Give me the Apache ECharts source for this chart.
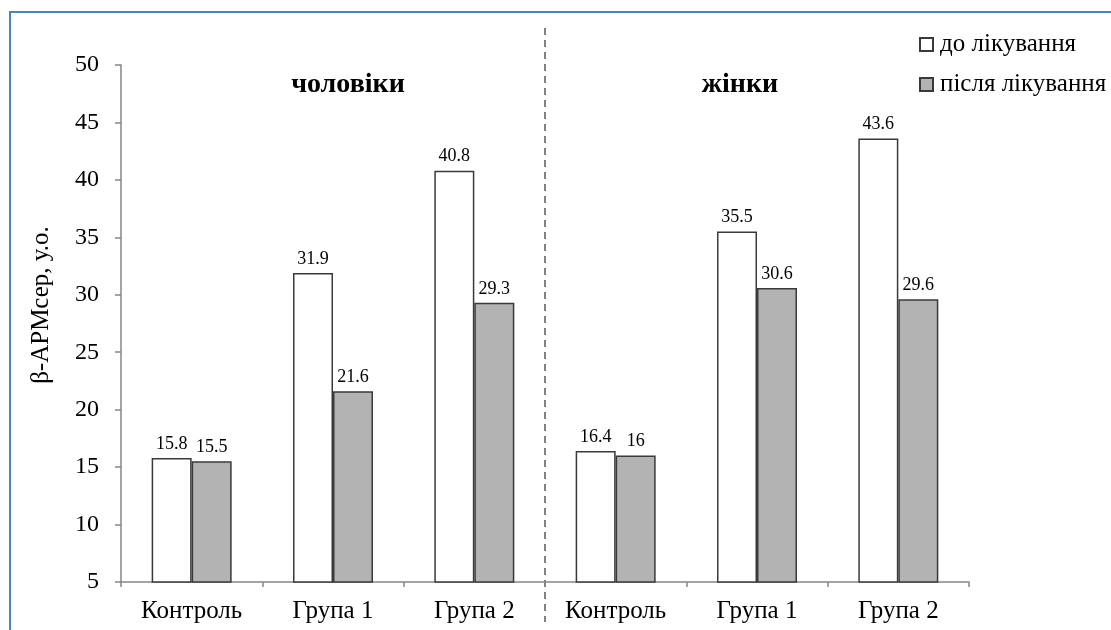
<!DOCTYPE html>
<html>
<head>
<meta charset="utf-8">
<script src="https://cdn.jsdelivr.net/npm/echarts@6/dist/echarts.min.js"></script>
<style>
  html, body { margin: 0; padding: 0; background: #fff; }
  #chart { width: 1111px; height: 630px; }
</style>
</head>
<body>
<div id="chart"></div>
<script>
// Groups along the x axis: men (first three) and women (last three)
const categories = ['Контроль', 'Група 1', 'Група 2', 'Контроль', 'Група 1', 'Група 2'];
const beforeValues = [15.8, 31.9, 40.8, 16.4, 35.5, 43.6];
const afterValues = [15.5, 21.6, 29.3, 16, 30.6, 29.6];
const seriesNames = ['до лікування', 'після лікування'];
const groupTitles = ['чоловіки', 'жінки'];
const yAxisTitle = 'β-АРМсер, у.о.';
const yTicks = { min: 5, max: 50, interval: 5 };

const FONT = '"Liberation Serif", "Times New Roman", serif';
const chart = echarts.init(document.getElementById('chart'));

const labelStyle = {
  show: true,
  position: 'top',
  distance: 5,
  fontFamily: FONT,
  fontSize: 18,
  color: '#000'
};

chart.setOption({
  backgroundColor: '#fff',
  animation: false,
  grid: { left: 121, right: 142, top: 65, bottom: 48 },
  legend: {
    orient: 'vertical',
    left: 919,
    top: 32,
    padding: 0,
    itemWidth: 13,
    itemHeight: 13,
    itemGap: 15,
    icon: 'rect',
    textStyle: { fontFamily: FONT, fontSize: 25, lineHeight: 25, color: '#000', padding: [0, 0, 0, 2] },
    data: seriesNames
  },
  xAxis: {
    type: 'category',
    data: categories,
    axisLine: { lineStyle: { color: '#868686', width: 1.5 } },
    axisTick: { show: true, length: 5, lineStyle: { color: '#868686', width: 1.5 } },
    axisLabel: { fontFamily: FONT, fontSize: 25, color: '#000', margin: 17 }
  },
  yAxis: {
    type: 'value',
    min: yTicks.min,
    max: yTicks.max,
    interval: yTicks.interval,
    axisLine: { show: true, lineStyle: { color: '#868686', width: 1.5 } },
    axisTick: { show: true, length: 6, lineStyle: { color: '#868686', width: 1.5 } },
    axisLabel: { fontFamily: FONT, fontSize: 24, color: '#000', margin: 22 },
    splitLine: { show: false }
  },
  series: [
    {
      name: seriesNames[0],
      type: 'bar',
      data: beforeValues,
      barWidth: 40,
      barGap: '0%',
      itemStyle: { color: '#ffffff', borderColor: '#3a3a3a', borderWidth: 1.5 },
      label: labelStyle
    },
    {
      name: seriesNames[1],
      type: 'bar',
      data: afterValues,
      barWidth: 40,
      barGap: '0%',
      itemStyle: { color: '#b3b3b3', borderColor: '#3a3a3a', borderWidth: 1.5 },
      label: labelStyle
    }
  ]
});

// Frame, divider between the two groups, group titles and the vertical axis title
function drawOverlay() {
  const x1 = chart.convertToPixel({ xAxisIndex: 0 }, 1);
  const x2 = chart.convertToPixel({ xAxisIndex: 0 }, 2);
  const x3 = chart.convertToPixel({ xAxisIndex: 0 }, 3);
  const x4 = chart.convertToPixel({ xAxisIndex: 0 }, 4);
  const xMid = (x2 + x3) / 2;
  const titleStyle = {
    fontFamily: FONT, fontSize: 28, fontWeight: 'bold',
    fill: '#000', align: 'center', verticalAlign: 'middle'
  };
  chart.setOption({
    graphic: [
      {
        type: 'rect',
        silent: true,
        shape: { x: 10, y: 12, width: 1130, height: 650 },
        style: { fill: null, stroke: '#4f81bd', lineWidth: 2 }
      },
      {
        type: 'line',
        silent: true,
        shape: { x1: xMid, y1: 28, x2: xMid, y2: 622 },
        style: { stroke: '#000', lineWidth: 1, lineDash: [7, 5] }
      },
      {
        type: 'text',
        silent: true,
        x: x1 + 15, y: 85,
        style: Object.assign({ text: groupTitles[0] }, titleStyle)
      },
      {
        type: 'text',
        silent: true,
        x: x4 - 17, y: 85,
        style: Object.assign({ text: groupTitles[1] }, titleStyle)
      },
      {
        type: 'text',
        silent: true,
        x: 41, y: 305,
        rotation: Math.PI / 2,
        style: {
          text: yAxisTitle, fontFamily: FONT, fontSize: 25,
          fill: '#000', align: 'center', verticalAlign: 'middle'
        }
      }
    ]
  });
}
drawOverlay();
</script>
</body>
</html>
